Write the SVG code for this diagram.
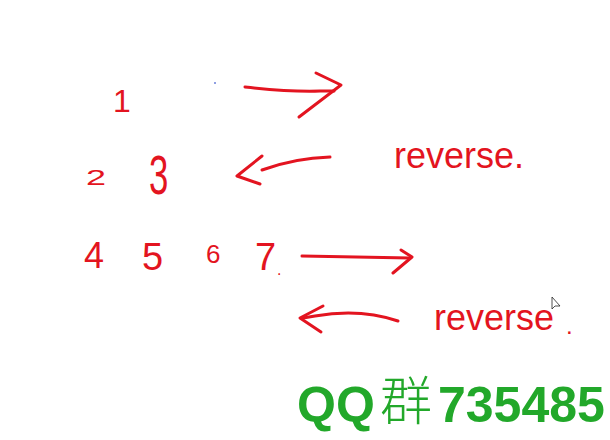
<svg xmlns="http://www.w3.org/2000/svg" width="610" height="440" viewBox="0 0 610 440">
<style>
.h{fill:#e31420;font-family:"Liberation Sans",Arial,sans-serif}
.a{fill:none;stroke:#e31420;stroke-width:3;stroke-linecap:round;stroke-linejoin:round}
.wm{fill:#22a82a;font-family:"Liberation Sans","Noto Sans CJK SC",sans-serif}
</style>
<rect width="610" height="440" fill="#ffffff"/>
<circle cx="215" cy="83" r="1" fill="#6a7fd8"/>
<g id="row1">
<text class="h" x="113" y="112" font-size="32">1</text>
</g>
<g id="row2">
<text class="h" transform="translate(86,185) scale(1.5,0.9)" font-size="24">2</text>
<text class="h" transform="translate(149,194) scale(0.62,1)" font-size="56">3</text>
</g>
<g id="row3">
<text class="h" x="84" y="268" font-size="36">4</text>
<text class="h" x="142" y="270" font-size="38">5</text>
<text class="h" x="206" y="263" font-size="26">6</text>
<text class="h" x="255" y="270" font-size="38">7</text>
<text class="h" x="277" y="275" font-size="16">.</text>
</g>
<g id="labels">
<text class="h" x="394" y="168" font-size="36">reverse.</text>
<text class="h" x="434" y="330" font-size="36">reverse</text>
<text class="h" x="566" y="334" font-size="24">.</text>
</g>
<g id="connectors">
<path class="a" d="M245,87 Q290,92 320,91 L334,91"/>
<path class="a" d="M316,73 L341,85 L299,117"/>
<path class="a" d="M330,157 Q295,158 262,170"/>
<path class="a" d="M262,156 L237,176 L260,184"/>
<path class="a" d="M302,256 L410,258"/>
<path class="a" d="M401,250 L412,257 L393,273"/>
<path class="a" d="M398,321 Q360,308 315,316 L303,318"/>
<path class="a" d="M323,306 L300,318 L321,332"/>
</g>
<path d="M552,297 L552,309 L555,306 L560,306 Z" fill="#ffffff" stroke="#222" stroke-width="0.8"/>
<text class="wm" x="297" y="422" font-size="50" font-weight="bold">QQ</text>
<text class="wm" x="380" y="420" font-size="52" font-family="'Noto Sans CJK SC',sans-serif" style="font-weight:300">群</text>
<text class="wm" x="438" y="422" font-size="50" font-weight="bold">735485</text>
</svg>
